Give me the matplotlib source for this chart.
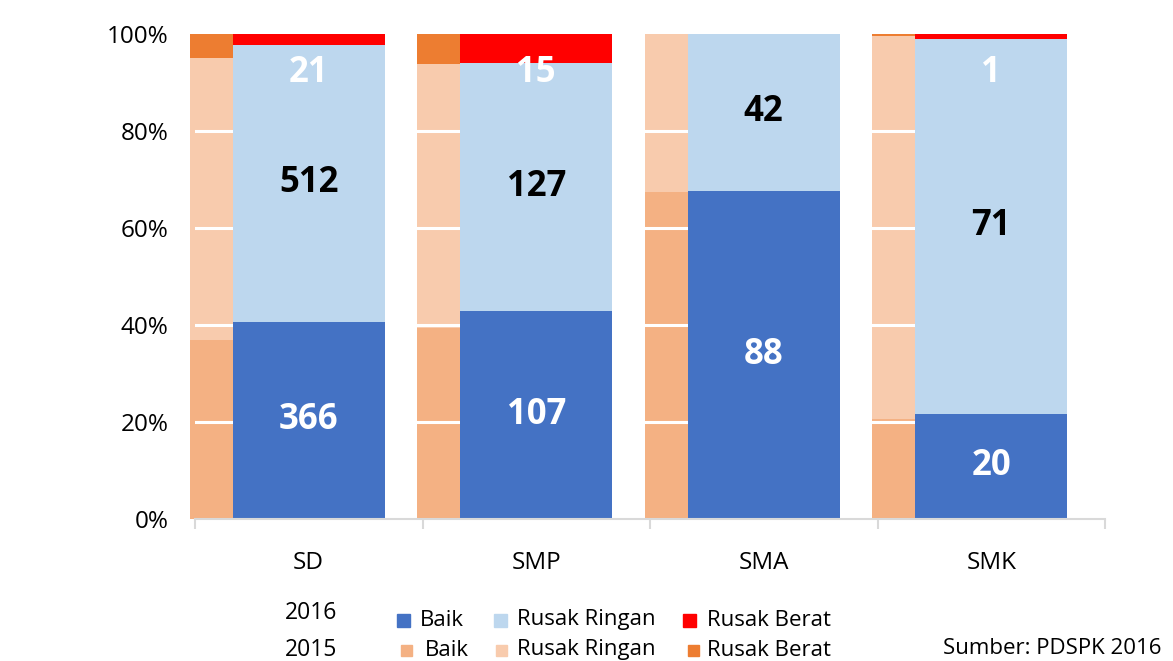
import matplotlib
matplotlib.use("Agg")
import matplotlib.pyplot as plt
from matplotlib.patches import Rectangle
import numpy as np

plt.rcParams['font.family'] = ['Open Sans', 'DejaVu Sans']

categories = ["SD", "SMP", "SMA", "SMK"]
# 2016 counts
baik_2016 = [366, 107, 88, 20]
ringan_2016 = [512, 127, 42, 71]
berat_2016 = [21, 15, 0, 1]
# 2015 shares (percent)
baik_2015 = [36.9, 39.4, 67.4, 20.7]
ringan_2015 = [58.2, 54.4, 32.6, 78.9]
berat_2015 = [4.9, 6.2, 0.0, 0.4]
yticks = [0, 20, 40, 60, 80, 100]
legend_labels = ["Baik", "Rusak Ringan", "Rusak Berat"]
source_text = "Sumber: PDSPK 2016"

c16 = ["#4472C4", "#BDD7EE", "#FF0000"]
c15 = ["#F4B183", "#F8CBAD", "#ED7D31"]

W, H = 1173, 661
fig = plt.figure(figsize=(W / 100, H / 100), dpi=100)
ax = fig.add_axes([195 / W, (H - 519) / H, (1105 - 195) / W, (519 - 34) / H])

x = np.arange(len(categories))
b16 = np.array(baik_2016, float)
r16 = np.array(ringan_2016, float)
h16 = np.array(berat_2016, float)
tot = b16 + r16 + h16
p_b16 = b16 / tot * 100
p_r16 = r16 / tot * 100
p_h16 = h16 / tot * 100

# 2015 bars (behind)
w = 0.67
x15 = x - 0.522
bot = np.zeros(len(x))
for vals, col in zip([baik_2015, ringan_2015, berat_2015], c15):
    v = np.array(vals)
    ax.bar(x15, v, width=w, bottom=bot, color=col, align='edge', zorder=1,
           clip_on=False, linewidth=0)
    bot += v

# white gridlines
for yv in yticks[1:-1]:
    ax.axhline(yv, color='white', lw=2.2, zorder=1.5)

# 2016 bars
bot = np.zeros(len(x))
segs = []
for v, col in zip([p_b16, p_r16, p_h16], c16):
    ax.bar(x, v, width=w, bottom=bot, color=col, zorder=2, linewidth=0)
    segs.append((bot.copy(), v))
    bot += v

# labels
fs_val = 25
for i in range(len(x)):
    b0, bv = segs[0][0][i], segs[0][1][i]
    ax.text(x[i], b0 + bv / 2, f"{baik_2016[i]}", ha='center', va='center',
            color='white', fontsize=fs_val, fontweight='bold', zorder=5)
    r0, rv = segs[1][0][i], segs[1][1][i]
    ax.text(x[i], r0 + rv / 2, f"{ringan_2016[i]}", ha='center', va='center',
            color='black', fontsize=fs_val, fontweight='bold', zorder=5)
    if berat_2016[i] > 0:
        ax.text(x[i], 92.0, f"{berat_2016[i]}", ha='center', va='center',
                color='white', fontsize=fs_val, fontweight='bold', zorder=5)

ax.set_xlim(-0.5, len(x) - 0.5)
ax.set_ylim(0, 100)
ax.set_yticks(yticks)
ax.set_yticklabels([f"{v}%" for v in yticks], fontsize=17.5)
ax.tick_params(axis='y', length=0, pad=19)
ax.set_xticks(np.arange(len(x) + 1) - 0.5)
ax.set_xticklabels([])
ax.set_xticks(x, minor=True)
ax.set_xticklabels(categories, minor=True, fontsize=17.5)
ax.tick_params(axis='x', which='major', length=7, width=1.5, color='#D9D9D9', direction='out')
ax.tick_params(axis='x', which='minor', length=0, pad=23)
for s in ['top', 'right', 'left']:
    ax.spines[s].set_visible(False)
ax.spines['bottom'].set_color('#D9D9D9')
ax.spines['bottom'].set_linewidth(1.5)
ax.spines['bottom'].set_zorder(3)

# legend
def fx(px):
    return px / W

def fy(py):
    return 1 - py / H

fig.text(fx(285), fy(613), "2016", fontsize=16.5, va='center', ha='left')
fig.text(fx(285), fy(650), "2015", fontsize=16.5, va='center', ha='left')
row1 = [(397, 420), (494, 517), (683, 707)]
row2 = [(401, 425), (496, 517), (688, 707)]
for (sx, tx), col, lab in zip(row1, c16, legend_labels):
    fig.patches.append(Rectangle((fx(sx), fy(627)), 13 / W, 13 / H, color=col,
                                 transform=fig.transFigure, figure=fig))
    fig.text(fx(tx), fy(620), lab, fontsize=16, va='center', ha='left')
for (sx, tx), col, lab in zip(row2, c15, legend_labels):
    fig.patches.append(Rectangle((fx(sx), fy(656)), 11 / W, 11 / H, color=col,
                                 transform=fig.transFigure, figure=fig))
    fig.text(fx(tx), fy(650), lab, fontsize=16, va='center', ha='left')

fig.text(fx(943), fy(648), source_text, fontsize=16, va='center', ha='left')

fig.savefig("out.png", dpi=100)
